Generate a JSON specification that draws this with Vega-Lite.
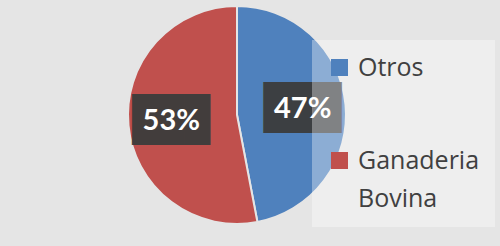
{
  "$schema": "https://vega.github.io/schema/vega-lite/v6.json",
  "width": 464,
  "height": 210,
  "autosize": "none",
  "padding": {"left": 5, "top": 10, "right": 31, "bottom": 26},
  "background": "#e5e5e5",
  "config": {"view": {"stroke": null}, "style": {"guide-label": {"lineHeight": 38}}},
  "data": {"values": [
    {"category": "Otros", "value": 47, "label": "47%", "order": 1},
    {"category": "Ganaderia Bovina", "value": 53, "label": "53%", "order": 2}
  ]},
  "encoding": {
    "theta": {"field": "value", "type": "quantitative", "stack": true},
    "order": {"field": "order", "type": "quantitative"},
    "detail": {"field": "category", "type": "nominal"}
  },
  "layer": [
    {
      "mark": {"type": "arc", "outerRadius": 109, "stroke": "#e5e5e5", "strokeWidth": 2},
      "encoding": {
        "color": {
          "field": "category", "type": "nominal",
          "scale": {"domain": ["Otros", "Ganaderia Bovina"], "range": ["#4f81bd", "#c0504d"]},
          "legend": {
            "title": null,
            "orient": "none",
            "legendX": 307,
            "legendY": 30,
            "symbolType": "square",
            "symbolSize": 289,
            "symbolStrokeWidth": 0,
            "symbolOpacity": 1,
            "labelFont": "Open Sans",
            "labelFontSize": 25,
            "labelColor": "#404040",
            "labelOffset": 6,
            "labelLimit": 300,
            "padding": 15,
            "rowPadding": 67,
            "fillColor": "rgba(255,255,255,0.35)",
            "labelExpr": "split(datum.label, ' ')"
          }
        }
      }
    },
    {
      "mark": {"type": "text", "radius": 66, "text": "███", "font": "DejaVu Sans Mono", "fontSize": 43, "fill": "#3c3c3c", "opacity": 0.95}
    },
    {
      "mark": {"type": "text", "radius": 66, "font": "Lato", "fontWeight": "bold", "fontSize": 29, "fill": "white"},
      "encoding": {"text": {"field": "label", "type": "nominal"}}
    }
  ]
}
